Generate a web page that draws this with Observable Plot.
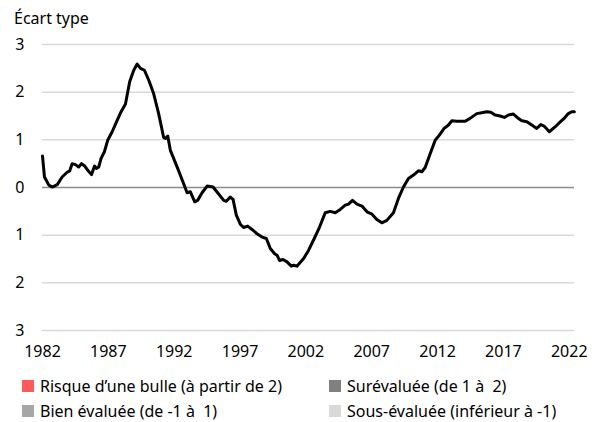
<!DOCTYPE html>
<html><head><meta charset="utf-8">
<script src="https://cdn.jsdelivr.net/npm/d3@7"></script>
<script src="https://cdn.jsdelivr.net/npm/@observablehq/plot@0.6"></script>
<style>
body{margin:0;background:#fff;font-family:"Noto Sans",sans-serif;color:#000}
#wrap{position:relative;width:599px;height:422px;overflow:hidden;background:#fff}
#chart{position:absolute;left:0;top:0}
#title{position:absolute;left:14px;top:7px;font-size:16px;line-height:22px}
.leg{position:absolute;font-size:16px;line-height:20px;white-space:pre;display:flex;align-items:center}
.sw{width:12px;height:12px;margin-right:6px;flex:none}
</style></head>
<body>
<div id="wrap"><div id="chart"></div><div id="title">Écart type</div><div id="legend"></div></div>
<script>
const years = [1982.00,1982.15,1982.48,1982.74,1983.12,1983.49,1983.87,1984.07,1984.25,1984.50,1984.75,1984.96,1985.21,1985.44,1985.72,1985.95,1986.10,1986.27,1986.45,1986.70,1986.95,1987.29,1987.67,1987.97,1988.30,1988.62,1988.93,1989.19,1989.44,1989.74,1990.07,1990.44,1990.82,1991.20,1991.33,1991.51,1991.71,1992.02,1992.34,1992.72,1992.98,1993.23,1993.56,1993.78,1994.12,1994.50,1994.95,1995.30,1995.76,1995.96,1996.26,1996.47,1996.72,1997.02,1997.27,1997.58,1997.91,1998.29,1998.67,1999.00,1999.30,1999.63,1999.81,2000.00,2000.26,2000.57,2000.89,2001.07,2001.32,2001.83,2002.20,2002.64,2003.04,2003.47,2003.85,2004.23,2004.61,2004.99,2005.24,2005.54,2005.88,2006.26,2006.64,2007.02,2007.39,2007.77,2008.15,2008.65,2009.03,2009.41,2009.79,2010.17,2010.55,2010.81,2011.06,2011.44,2011.82,2012.14,2012.50,2012.83,2013.09,2013.46,2014.09,2014.47,2014.98,2015.36,2015.74,2016.04,2016.37,2016.75,2017.08,2017.38,2017.76,2018.09,2018.40,2018.78,2019.16,2019.53,2019.84,2020.09,2020.49,2020.92,2021.30,2021.61,2021.93,2022.19,2022.39];
const values = [0.66,0.22,0.05,0.01,0.06,0.22,0.32,0.35,0.50,0.48,0.43,0.50,0.45,0.36,0.27,0.45,0.40,0.43,0.61,0.75,0.99,1.17,1.41,1.59,1.75,2.22,2.46,2.59,2.50,2.46,2.25,1.97,1.55,1.05,1.03,1.08,0.78,0.57,0.35,0.08,-0.11,-0.09,-0.30,-0.27,-0.11,0.03,0.01,-0.11,-0.27,-0.29,-0.20,-0.25,-0.58,-0.77,-0.84,-0.81,-0.88,-0.97,-1.04,-1.07,-1.28,-1.39,-1.42,-1.53,-1.51,-1.56,-1.65,-1.63,-1.65,-1.49,-1.32,-1.07,-0.83,-0.53,-0.50,-0.53,-0.46,-0.37,-0.35,-0.27,-0.35,-0.39,-0.51,-0.56,-0.67,-0.74,-0.69,-0.53,-0.23,0.01,0.19,0.26,0.35,0.33,0.42,0.71,0.99,1.10,1.24,1.31,1.40,1.39,1.39,1.45,1.55,1.57,1.59,1.58,1.52,1.50,1.47,1.52,1.54,1.46,1.40,1.38,1.31,1.24,1.32,1.29,1.17,1.27,1.37,1.45,1.55,1.59,1.59];
const xTicks = [1982,1987,1992,1997,2002,2007,2012,2017,2022];
const xTickLabels = ["1982","1987","1992","1997","2002","2007","2012","2017","2022"];
const yTicks = [-3,-2,-1,0,1,2,3];
const yTickLabels = ["3","2","1","0","1","2","3"];
const legendLabels = ["Risque d\u2019une bulle (à partir de 2)","Surévaluée (de 1 à  2)","Bien évaluée (de -1 à  1)","Sous-évaluée (inférieur à -1)"];
const legendColors = ["#ff5a5a","#808080","#a6a6a6","#d9d9d9"];

const data = years.map((y,i)=>({year:y, value:values[i]}));

const chart = Plot.plot({
  width: 599,
  height: 362,
  marginLeft: 42,
  marginRight: 25,
  marginTop: 44,
  marginBottom: 32,
  style: {fontFamily: '"Noto Sans", sans-serif', fontSize: "16px", color: "#000", background: "transparent", overflow: "visible"},
  x: {domain: [1982, 2022.4]},
  y: {domain: [-3, 3]},
  marks: [
    Plot.ruleY(yTicks.filter(d => d !== 0), {stroke: "#d9d9d9", strokeWidth: 1.5}),
    Plot.ruleY([0], {stroke: "#8c8c8c", strokeWidth: 1.5}),
    Plot.lineY(data, {x: "year", y: "value", stroke: "#000", strokeWidth: 3, strokeLinejoin: "round"}),
    Plot.axisX({ticks: xTicks, tickFormat: d => xTickLabels[xTicks.indexOf(d)], tickSize: 0, tickPadding: 15, label: null, fill: "#000"}),
    Plot.axisY({ticks: yTicks, tickFormat: d => yTickLabels[yTicks.indexOf(d)], tickSize: 0, tickPadding: 18, label: null, fill: "#000"})
  ]
});
document.getElementById("chart").appendChild(chart);

const pos = [[22,376],[329,376],[22,401],[329,401]];
const leg = document.getElementById("legend");
legendLabels.forEach((lab,i)=>{
  const d = document.createElement("div");
  d.className = "leg";
  d.style.left = pos[i][0] + "px";
  d.style.top = pos[i][1] + "px";
  const s = document.createElement("span");
  s.className = "sw";
  s.style.background = legendColors[i];
  const t = document.createElement("span");
  t.textContent = lab;
  d.appendChild(s); d.appendChild(t);
  leg.appendChild(d);
});
</script>
</body></html>
